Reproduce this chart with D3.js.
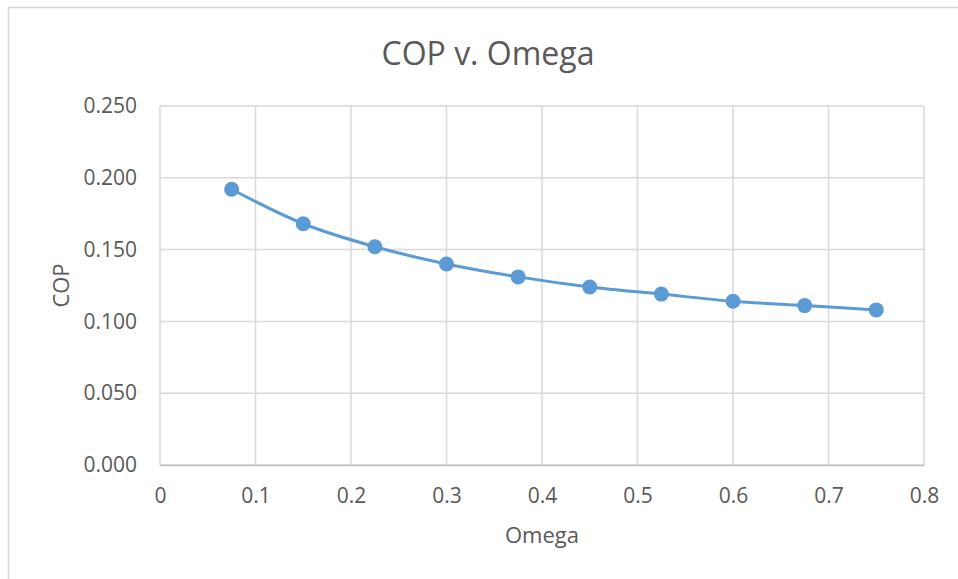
<!DOCTYPE html>
<html>
<head>
<meta charset="utf-8">
<script src="https://cdn.jsdelivr.net/npm/d3@7"></script>
<style>
  body { margin: 0; background: #fff; }
  svg { display: block; }
  text { font-family: "Open Sans", sans-serif; fill: #595959; }
</style>
</head>
<body>
<div id="chart"></div>
<script>
// data
var omega = [0.075, 0.15, 0.225, 0.3, 0.375, 0.45, 0.525, 0.6, 0.675, 0.75]
var cop = [0.192, 0.168, 0.152, 0.140, 0.131, 0.124, 0.119, 0.114, 0.111, 0.108]
var xTicks = [0, 0.1, 0.2, 0.3, 0.4, 0.5, 0.6, 0.7, 0.8]
var yTicks = [0, 0.05, 0.1, 0.15, 0.2, 0.25]

var W = 958, H = 579
var margin = {top: 106, right: 34, bottom: 114, left: 160},
    width = W - margin.left - margin.right,
    height = H - margin.top - margin.bottom

var dataset = omega.map((d, i) => [d, cop[i]])

var svg = d3.select("#chart").append("svg")
    .attr("width", W)
    .attr("height", H)

// outer chart border (only top and left visible in frame)
svg.append("path")
    .attr("d", "M8.5," + H + "V7.5H" + W)
    .attr("fill", "none")
    .attr("stroke", "#d9d9d9")
    .attr("stroke-width", 1.5)

var g = svg.append("g")
    .attr("transform", "translate(" + margin.left + "," + margin.top + ")")

var xScale = d3.scaleLinear().domain([0, 0.8]).range([0, width])
var yScale = d3.scaleLinear().domain([0, 0.25]).range([height, 0])

// gridlines
g.append("g").selectAll("line").data(yTicks).enter().append("line")
    .attr("x1", 0).attr("x2", width)
    .attr("y1", d => yScale(d)).attr("y2", d => yScale(d))
    .attr("stroke", "#d9d9d9").attr("stroke-width", 1.5)
g.append("g").selectAll("line").data(xTicks).enter().append("line")
    .attr("y1", 0).attr("y2", height)
    .attr("x1", d => xScale(d)).attr("x2", d => xScale(d))
    .attr("stroke", "#d9d9d9").attr("stroke-width", 1.5)

// x axis
var xAxis = g.append("g")
    .attr("transform", "translate(0," + height + ")")
    .call(d3.axisBottom(xScale).tickValues(xTicks).tickSize(0).tickPadding(0).tickFormat(d3.format("")))
xAxis.select(".domain").attr("stroke", "#bfbfbf").attr("stroke-width", 1.5)
xAxis.selectAll("text")
    .attr("y", 31).attr("dy", "0.35em")
    .style("font-size", "21px")

// y axis
var yAxis = g.append("g")
    .call(d3.axisLeft(yScale).tickValues(yTicks).tickSize(0).tickPadding(0).tickFormat(d3.format(".3f")))
yAxis.select(".domain").remove()
yAxis.selectAll("text")
    .attr("x", -23)
    .style("font-size", "21px")

// line
var line = d3.line()
    .x(d => xScale(d[0]))
    .y(d => yScale(d[1]))
    .curve(d3.curveCatmullRom.alpha(0.5))

g.append("path")
    .datum(dataset)
    .attr("fill", "none")
    .attr("stroke", "#5b9bd5")
    .attr("stroke-width", 3)
    .attr("d", line)

g.selectAll(".pt").data(dataset).enter().append("circle")
    .attr("class", "pt")
    .attr("cx", d => xScale(d[0]))
    .attr("cy", d => yScale(d[1]))
    .attr("r", 7.5)
    .attr("fill", "#5b9bd5")

// titles
svg.append("text")
    .attr("x", 488).attr("y", 65)
    .attr("text-anchor", "middle")
    .style("font-size", "32px")
    .text("COP v. Omega")

svg.append("text")
    .attr("x", margin.left + width / 2).attr("y", 543)
    .attr("text-anchor", "middle")
    .style("font-size", "22px")
    .text("Omega")

svg.append("text")
    .attr("transform", "translate(69," + (margin.top + height / 2) + ") rotate(-90)")
    .attr("text-anchor", "middle")
    .style("font-size", "22px")
    .text("COP")
</script>
</body>
</html>
